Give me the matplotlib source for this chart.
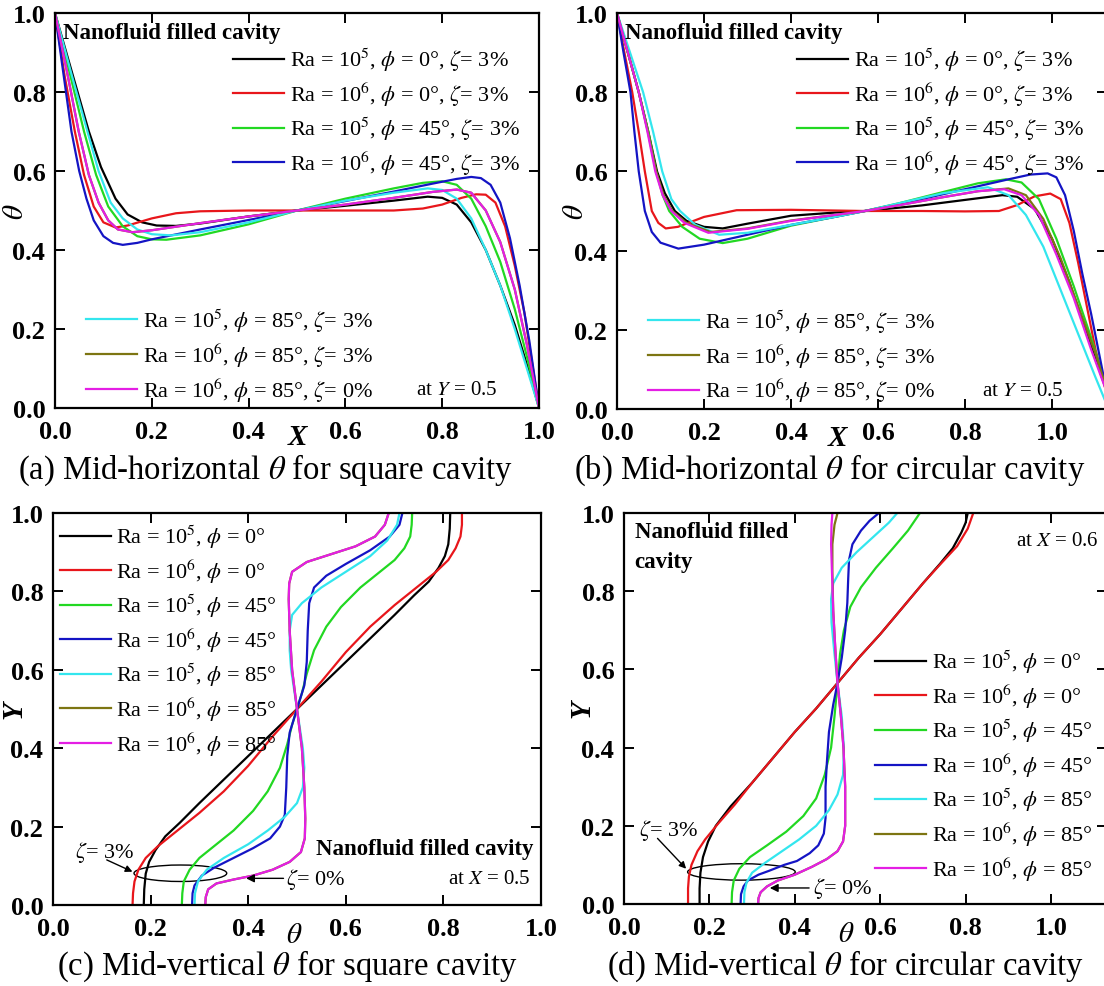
import matplotlib.pyplot as plt
from matplotlib.patches import Ellipse

plt.rcParams['font.family'] = ['Liberation Serif', 'DejaVu Serif']
plt.rcParams['mathtext.fontset'] = 'stix'

# ---- data: (a) mid-horizontal theta, square cavity  (X, theta) ----
a_black = [(0, 1.0), (0.035, 0.85), (0.07, 0.7), (0.095, 0.61), (0.125, 0.53), (0.15, 0.49), (0.18, 0.47),
           (0.21, 0.462), (0.25, 0.461), (0.3, 0.467), (0.4, 0.485), (0.5, 0.5), (0.6, 0.512), (0.7, 0.525),
           (0.77, 0.535), (0.8, 0.532), (0.83, 0.515), (0.86, 0.47), (0.89, 0.4), (0.92, 0.31), (0.95, 0.21),
           (0.975, 0.11), (1.0, 0.0)]
a_red = [(0, 1.0), (0.02, 0.84), (0.041, 0.7), (0.06, 0.59), (0.08, 0.51), (0.1, 0.47), (0.125, 0.457),
         (0.15, 0.462), (0.2, 0.48), (0.25, 0.493), (0.3, 0.498), (0.4, 0.5), (0.5, 0.5), (0.6, 0.5), (0.7, 0.5),
         (0.76, 0.505), (0.8, 0.515), (0.84, 0.532), (0.87, 0.541), (0.89, 0.54), (0.91, 0.52), (0.93, 0.46),
         (0.95, 0.36), (0.97, 0.24), (0.985, 0.12), (1.0, 0.0)]
a_green = [(0, 1.0), (0.03, 0.85), (0.06, 0.7), (0.085, 0.59), (0.11, 0.51), (0.14, 0.46), (0.17, 0.435),
           (0.2, 0.427), (0.23, 0.426), (0.3, 0.437), (0.4, 0.465), (0.5, 0.5), (0.6, 0.53), (0.7, 0.556),
           (0.76, 0.57), (0.8, 0.574), (0.83, 0.565), (0.86, 0.53), (0.89, 0.46), (0.92, 0.37), (0.95, 0.25),
           (0.975, 0.13), (1.0, 0.0)]
a_blue = [(0, 1.0), (0.017, 0.85), (0.034, 0.7), (0.05, 0.6), (0.065, 0.53), (0.08, 0.475), (0.1, 0.435),
          (0.12, 0.418), (0.14, 0.413), (0.17, 0.418), (0.2, 0.427), (0.3, 0.452), (0.4, 0.476), (0.5, 0.5),
          (0.6, 0.524), (0.7, 0.548), (0.78, 0.568), (0.83, 0.58), (0.86, 0.585), (0.88, 0.582), (0.9, 0.565),
          (0.92, 0.52), (0.94, 0.43), (0.96, 0.31), (0.98, 0.17), (1.0, 0.0)]
a_cyan = [(0, 1.0), (0.033, 0.85), (0.067, 0.7), (0.09, 0.6), (0.115, 0.52), (0.14, 0.48), (0.17, 0.452),
          (0.2, 0.44), (0.24, 0.437), (0.3, 0.445), (0.4, 0.47), (0.5, 0.5), (0.6, 0.525), (0.7, 0.545),
          (0.77, 0.556), (0.8, 0.552), (0.83, 0.53), (0.86, 0.48), (0.89, 0.4), (0.92, 0.31), (0.95, 0.2),
          (0.975, 0.1), (1.0, 0.0)]
a_olive = [(0, 1.0), (0.025, 0.85), (0.049, 0.7), (0.07, 0.59), (0.09, 0.52), (0.11, 0.475), (0.13, 0.452),
           (0.16, 0.445), (0.2, 0.45), (0.3, 0.468), (0.4, 0.485), (0.5, 0.5), (0.6, 0.515), (0.7, 0.532),
           (0.78, 0.547), (0.83, 0.553), (0.86, 0.545), (0.89, 0.5), (0.92, 0.42), (0.95, 0.3), (0.975, 0.16),
           (1.0, 0.0)]
a_magenta = [(0, 1.0), (0.025, 0.85), (0.049, 0.7), (0.07, 0.59), (0.09, 0.52), (0.11, 0.475), (0.13, 0.452),
             (0.16, 0.445), (0.2, 0.45), (0.3, 0.468), (0.4, 0.485), (0.5, 0.5), (0.6, 0.515), (0.7, 0.532),
             (0.78, 0.547), (0.83, 0.553), (0.86, 0.545), (0.89, 0.5), (0.92, 0.42), (0.95, 0.3), (0.975, 0.16),
             (1.0, 0.0)]

# ---- data: (b) mid-horizontal theta, circular cavity  (X, theta) ----
b_black = [(0, 1.0), (0.025, 0.9), (0.05, 0.8), (0.072, 0.7), (0.092, 0.6), (0.11, 0.545), (0.133, 0.5),
           (0.16, 0.475), (0.2, 0.46), (0.243, 0.456), (0.3, 0.468), (0.4, 0.488), (0.5, 0.496), (0.57, 0.5),
           (0.7, 0.514), (0.8, 0.528), (0.886, 0.54), (0.92, 0.536), (0.96, 0.505), (1.0, 0.43), (1.04, 0.32),
           (1.08, 0.19), (1.14, 0.0)]
b_red = [(0, 1.0), (0.017, 0.9), (0.035, 0.8), (0.05, 0.7), (0.064, 0.6), (0.08, 0.5), (0.095, 0.47),
         (0.112, 0.456), (0.14, 0.46), (0.2, 0.485), (0.275, 0.502), (0.4, 0.503), (0.57, 0.5), (0.7, 0.5),
         (0.8, 0.499), (0.878, 0.5), (0.92, 0.515), (0.96, 0.537), (0.996, 0.544), (1.02, 0.53), (1.04, 0.47),
         (1.06, 0.37), (1.08, 0.26), (1.1, 0.15), (1.13, 0.02)]
b_green = [(0, 1.0), (0.025, 0.9), (0.05, 0.8), (0.072, 0.7), (0.09, 0.6), (0.105, 0.54), (0.12, 0.5),
           (0.15, 0.46), (0.19, 0.43), (0.243, 0.419), (0.3, 0.43), (0.4, 0.463), (0.5, 0.485), (0.57, 0.5),
           (0.65, 0.52), (0.75, 0.548), (0.83, 0.57), (0.894, 0.58), (0.93, 0.572), (0.97, 0.53), (1.01, 0.43),
           (1.05, 0.31), (1.09, 0.18), (1.14, 0.0)]
b_blue = [(0, 1.0), (0.015, 0.9), (0.031, 0.8), (0.04, 0.7), (0.05, 0.6), (0.064, 0.5), (0.08, 0.447),
          (0.1, 0.42), (0.141, 0.405), (0.2, 0.415), (0.3, 0.44), (0.4, 0.465), (0.5, 0.485), (0.57, 0.5),
          (0.7, 0.53), (0.8, 0.555), (0.9, 0.58), (0.95, 0.592), (0.99, 0.595), (1.01, 0.585), (1.03, 0.54),
          (1.05, 0.45), (1.07, 0.34), (1.09, 0.24), (1.11, 0.13), (1.13, 0.02)]
b_cyan = [(0, 1.0), (0.03, 0.9), (0.06, 0.8), (0.083, 0.7), (0.104, 0.6), (0.125, 0.53), (0.145, 0.5),
          (0.18, 0.465), (0.235, 0.44), (0.3, 0.445), (0.4, 0.465), (0.5, 0.485), (0.57, 0.5), (0.65, 0.52),
          (0.75, 0.545), (0.853, 0.56), (0.9, 0.54), (0.94, 0.49), (0.98, 0.41), (1.02, 0.3), (1.06, 0.19),
          (1.1, 0.08), (1.13, 0.0)]
b_olive = [(0, 1.0), (0.025, 0.9), (0.05, 0.8), (0.071, 0.7), (0.09, 0.6), (0.107, 0.54), (0.127, 0.5),
           (0.16, 0.47), (0.215, 0.447), (0.3, 0.456), (0.4, 0.476), (0.5, 0.49), (0.57, 0.5), (0.65, 0.515),
           (0.75, 0.535), (0.83, 0.55), (0.9, 0.557), (0.94, 0.54), (0.98, 0.48), (1.02, 0.38), (1.06, 0.26),
           (1.1, 0.14), (1.14, 0.0)]
b_magenta = [(0, 1.0), (0.025, 0.9), (0.05, 0.8), (0.07, 0.7), (0.088, 0.6), (0.105, 0.54), (0.125, 0.5),
             (0.155, 0.47), (0.21, 0.445), (0.3, 0.455), (0.4, 0.475), (0.5, 0.49), (0.57, 0.5), (0.65, 0.515),
             (0.75, 0.535), (0.83, 0.55), (0.89, 0.555), (0.93, 0.54), (0.97, 0.49), (1.01, 0.39), (1.05, 0.28),
             (1.09, 0.15), (1.14, 0.0)]

# ---- data: (c) mid-vertical theta, square cavity  (theta, Y) ----
c_black = [(0.186, 0.0), (0.187, 0.04), (0.19, 0.08), (0.197, 0.11), (0.21, 0.14), (0.23, 0.175), (0.26, 0.21),
           (0.3, 0.26), (0.35, 0.32), (0.4, 0.38), (0.45, 0.44), (0.5, 0.5), (0.55, 0.56), (0.6, 0.62),
           (0.65, 0.68), (0.7, 0.74), (0.74, 0.79), (0.77, 0.825), (0.79, 0.86), (0.803, 0.89), (0.81, 0.92),
           (0.813, 0.96), (0.814, 1.0)]
c_red = [(0.163, 0.0), (0.164, 0.03), (0.167, 0.06), (0.175, 0.09), (0.19, 0.12), (0.215, 0.15), (0.25, 0.185),
         (0.3, 0.235), (0.35, 0.29), (0.4, 0.355), (0.45, 0.43), (0.5, 0.5), (0.55, 0.57), (0.6, 0.645),
         (0.65, 0.71), (0.7, 0.765), (0.75, 0.815), (0.785, 0.85), (0.81, 0.88), (0.825, 0.91), (0.835, 0.94),
         (0.838, 0.97), (0.838, 1.0)]
c_green = [(0.264, 0.0), (0.265, 0.03), (0.268, 0.06), (0.28, 0.09), (0.3, 0.12), (0.33, 0.15), (0.37, 0.19),
           (0.41, 0.24), (0.44, 0.29), (0.465, 0.35), (0.48, 0.41), (0.49, 0.46), (0.5, 0.5), (0.51, 0.54),
           (0.52, 0.59), (0.535, 0.65), (0.56, 0.71), (0.59, 0.76), (0.63, 0.81), (0.67, 0.85), (0.7, 0.88),
           (0.72, 0.91), (0.732, 0.94), (0.735, 0.97), (0.736, 1.0)]
c_blue = [(0.285, 0.0), (0.286, 0.03), (0.29, 0.05), (0.305, 0.075), (0.33, 0.095), (0.37, 0.12), (0.41, 0.145),
          (0.445, 0.17), (0.465, 0.2), (0.475, 0.23), (0.478, 0.3), (0.48, 0.38), (0.485, 0.44), (0.5, 0.5),
          (0.515, 0.56), (0.52, 0.62), (0.522, 0.7), (0.525, 0.77), (0.535, 0.81), (0.56, 0.84), (0.6, 0.87),
          (0.65, 0.905), (0.69, 0.94), (0.71, 0.97), (0.716, 1.0)]
c_cyan = [(0.29, 0.0), (0.291, 0.03), (0.297, 0.06), (0.315, 0.09), (0.35, 0.12), (0.4, 0.155), (0.44, 0.19),
          (0.475, 0.225), (0.5, 0.26), (0.512, 0.3), (0.515, 0.35), (0.512, 0.4), (0.506, 0.45), (0.5, 0.5),
          (0.494, 0.55), (0.488, 0.6), (0.485, 0.65), (0.485, 0.7), (0.49, 0.74), (0.51, 0.77), (0.55, 0.81),
          (0.6, 0.85), (0.65, 0.89), (0.685, 0.93), (0.705, 0.97), (0.71, 1.0)]
c_olive = [(0.312, 0.0), (0.313, 0.02), (0.318, 0.04), (0.335, 0.055), (0.37, 0.065), (0.41, 0.075),
           (0.45, 0.09), (0.485, 0.11), (0.508, 0.135), (0.516, 0.17), (0.517, 0.22), (0.515, 0.3), (0.51, 0.4),
           (0.5, 0.5), (0.49, 0.6), (0.485, 0.7), (0.483, 0.78), (0.484, 0.82), (0.49, 0.85), (0.52, 0.875),
           (0.57, 0.895), (0.62, 0.915), (0.66, 0.94), (0.68, 0.97), (0.688, 1.0)]
c_magenta = [(0.312, 0.0), (0.313, 0.02), (0.318, 0.04), (0.335, 0.055), (0.37, 0.065), (0.41, 0.075),
             (0.45, 0.09), (0.485, 0.11), (0.508, 0.135), (0.516, 0.17), (0.517, 0.22), (0.515, 0.3),
             (0.51, 0.4), (0.5, 0.5), (0.49, 0.6), (0.485, 0.7), (0.483, 0.78), (0.484, 0.82), (0.49, 0.85),
             (0.52, 0.875), (0.57, 0.895), (0.62, 0.915), (0.66, 0.94), (0.68, 0.97), (0.688, 1.0)]

# ---- data: (d) mid-vertical theta, circular cavity  (theta, Y) ----
d_black = [(0.177, 0.0), (0.177, 0.04), (0.179, 0.08), (0.185, 0.12), (0.197, 0.16), (0.215, 0.2), (0.25, 0.25),
           (0.3, 0.31), (0.35, 0.375), (0.4, 0.44), (0.45, 0.5), (0.5, 0.565), (0.55, 0.63), (0.6, 0.69),
           (0.65, 0.755), (0.7, 0.82), (0.74, 0.87), (0.77, 0.91), (0.79, 0.95), (0.8, 0.975), (0.805, 1.0)]
d_red = [(0.15, 0.0), (0.15, 0.04), (0.152, 0.07), (0.158, 0.1), (0.172, 0.135), (0.19, 0.165), (0.22, 0.205),
         (0.26, 0.255), (0.3, 0.31), (0.35, 0.375), (0.4, 0.44), (0.45, 0.5), (0.5, 0.565), (0.55, 0.63),
         (0.6, 0.69), (0.65, 0.755), (0.7, 0.82), (0.74, 0.868), (0.78, 0.915), (0.805, 0.96), (0.818, 1.0)]
d_green = [(0.252, 0.0), (0.253, 0.03), (0.257, 0.06), (0.27, 0.09), (0.295, 0.12), (0.335, 0.15),
           (0.38, 0.185), (0.42, 0.225), (0.45, 0.27), (0.47, 0.33), (0.485, 0.4), (0.493, 0.48), (0.5, 0.565),
           (0.506, 0.64), (0.515, 0.7), (0.53, 0.76), (0.555, 0.81), (0.59, 0.86), (0.63, 0.91), (0.665, 0.955),
           (0.693, 1.0)]
d_blue = [(0.273, 0.0), (0.274, 0.025), (0.28, 0.045), (0.29, 0.06), (0.315, 0.075), (0.34, 0.085),
          (0.375, 0.1), (0.405, 0.11), (0.435, 0.13), (0.455, 0.15), (0.468, 0.18), (0.472, 0.22),
          (0.472, 0.3), (0.475, 0.36), (0.48, 0.44), (0.49, 0.51), (0.5, 0.565), (0.51, 0.63), (0.518, 0.7),
          (0.523, 0.77), (0.525, 0.83), (0.527, 0.88), (0.535, 0.92), (0.555, 0.955), (0.575, 0.98),
          (0.597, 1.0)]
d_cyan = [(0.281, 0.0), (0.282, 0.03), (0.287, 0.055), (0.3, 0.08), (0.33, 0.105), (0.37, 0.135), (0.41, 0.165),
          (0.45, 0.2), (0.48, 0.24), (0.5, 0.28), (0.513, 0.33), (0.515, 0.4), (0.51, 0.48), (0.5, 0.565),
          (0.492, 0.65), (0.486, 0.72), (0.485, 0.78), (0.49, 0.82), (0.51, 0.86), (0.545, 0.9), (0.585, 0.94),
          (0.62, 0.975), (0.64, 1.0)]
d_olive = [(0.314, 0.0), (0.315, 0.015), (0.32, 0.03), (0.335, 0.045), (0.36, 0.06), (0.4, 0.075), (0.44, 0.095),
           (0.475, 0.115), (0.5, 0.135), (0.513, 0.16), (0.518, 0.2), (0.518, 0.3), (0.514, 0.4), (0.508, 0.48),
           (0.5, 0.565), (0.495, 0.65), (0.49, 0.75), (0.488, 0.85), (0.488, 0.92), (0.493, 0.97), (0.5, 1.0)]
d_magenta = [(0.314, 0.0), (0.315, 0.015), (0.32, 0.03), (0.335, 0.045), (0.36, 0.06), (0.4, 0.075),
             (0.44, 0.095), (0.475, 0.115), (0.5, 0.135), (0.513, 0.16), (0.518, 0.2), (0.518, 0.3),
             (0.514, 0.4), (0.508, 0.48), (0.5, 0.565), (0.495, 0.65), (0.49, 0.75), (0.487, 0.85),
             (0.485, 0.92), (0.486, 0.97), (0.488, 1.0)]

# legend labels
labels_top = [r'Ra = 10$^5$, $\phi$ = 0°, $\zeta$= 3%', r'Ra = 10$^6$, $\phi$ = 0°, $\zeta$= 3%',
              r'Ra = 10$^5$, $\phi$ = 45°, $\zeta$= 3%', r'Ra = 10$^6$, $\phi$ = 45°, $\zeta$= 3%']
labels_bottom = [r'Ra = 10$^5$, $\phi$ = 85°, $\zeta$= 3%', r'Ra = 10$^6$, $\phi$ = 85°, $\zeta$= 3%',
                 r'Ra = 10$^6$, $\phi$ = 85°, $\zeta$= 0%']
labels_vert = [r'Ra = 10$^5$, $\phi$ = 0°', r'Ra = 10$^6$, $\phi$ = 0°', r'Ra = 10$^5$, $\phi$ = 45°',
               r'Ra = 10$^6$, $\phi$ = 45°', r'Ra = 10$^5$, $\phi$ = 85°', r'Ra = 10$^6$, $\phi$ = 85°',
               r'Ra = 10$^6$, $\phi$ = 85°']
ticks = [0.0, 0.2, 0.4, 0.6, 0.8, 1.0]
tick_labels = ['0.0', '0.2', '0.4', '0.6', '0.8', '1.0']

colors = ['#000000', '#e8161b', '#22d822', '#1414c4', '#33e6ee', '#7d7512', '#e41ee4']

W, H = 1104, 987
fig = plt.figure(figsize=(W / 100, H / 100), dpi=100)


def add_axes(left, top, right, bottom):
    return fig.add_axes([left / W, 1 - bottom / H, (right - left) / W, (bottom - top) / H])


def style(ax, xmax):
    ax.set_xlim(0, xmax)
    ax.set_ylim(0, 1)
    ax.set_xticks(ticks)
    ax.set_yticks(ticks)
    ax.set_xticklabels(tick_labels, fontweight='bold', fontsize=19)
    ax.set_yticklabels(tick_labels, fontweight='bold', fontsize=19)
    ax.tick_params(direction='in', length=7, width=1.4, top=True, right=True)
    ax.tick_params(axis='x', pad=8.5)
    ax.tick_params(axis='y', pad=7)
    for sp in ax.spines.values():
        sp.set_linewidth(1.6)


def draw(ax, series):
    handles = []
    for pts, c in zip(series, colors):
        xs = [p[0] for p in pts]
        ys = [p[1] for p in pts]
        h, = ax.plot(xs, ys, color=c, lw=1.6)
        handles.append(h)
    return handles


leg_kw = dict(frameon=False, fontsize=16, handlelength=2.3, handletextpad=0.25,
              borderpad=0, borderaxespad=0, labelspacing=0.3, loc='upper left')

ax_a = add_axes(55, 14, 539, 409)
ax_b = add_axes(617, 14, 1107, 410)
ax_c = add_axes(53, 514, 541, 906)
ax_d = add_axes(624, 514, 1107, 905)

# (a) and (b)
for ax, series, xmax, xlab_x, ylab_x in [
        (ax_a, [a_black, a_red, a_green, a_blue, a_cyan, a_olive, a_magenta], 1.0, 0.5, -0.054),
        (ax_b, [b_black, b_red, b_green, b_blue, b_cyan, b_olive, b_magenta], 490 / 435, 0.45, -0.057)]:
    style(ax, xmax)
    hs = draw(ax, series)
    leg1 = ax.legend(hs[:4], labels_top, bbox_to_anchor=(0.368, 0.917), **leg_kw)
    ax.add_artist(leg1)
    ax.legend(hs[4:], labels_bottom, bbox_to_anchor=(0.064, 0.257), **leg_kw)
    ax.text(0.017, 0.95, 'Nanofluid filled cavity', transform=ax.transAxes, fontsize=16.5,
            fontweight='bold', va='center', ha='left')
    ax.text(0.745, 0.047, r'at $Y$ = 0.5', transform=ax.transAxes, fontsize=15, va='center', ha='left')
    ax.text(xlab_x, -0.072, 'X', transform=ax.transAxes, fontsize=21, fontweight='bold',
            fontstyle='italic', ha='center', va='center')
    ax.set_ylabel(r'$\theta$', fontsize=21)
    ax.yaxis.set_label_coords(ylab_x, 0.5)

# (c)
style(ax_c, 1.0)
hs = draw(ax_c, [c_black, c_red, c_green, c_blue, c_cyan, c_olive, c_magenta])
ax_c.legend(hs, labels_vert, bbox_to_anchor=(0.014, 0.975), **leg_kw)
ax_c.text(0.985, 0.145, 'Nanofluid filled cavity', transform=ax_c.transAxes, fontsize=16.5,
          fontweight='bold', va='center', ha='right')
ax_c.text(0.978, 0.068, r'at $X$ = 0.5', transform=ax_c.transAxes, fontsize=15, va='center', ha='right')
ax_c.add_patch(Ellipse((0.261, 0.081), 0.19, 0.042, fill=False, lw=1.0, color='k'))
ax_c.annotate('', xy=(0.168, 0.082), xytext=(0.105, 0.118),
              arrowprops=dict(arrowstyle='-|>', color='k', lw=1.0, mutation_scale=10))
ax_c.text(0.045, 0.136, r'$\zeta$= 3%', fontsize=16, va='center', ha='left')
ax_c.annotate('', xy=(0.39, 0.068), xytext=(0.478, 0.068),
              arrowprops=dict(arrowstyle='-|>', color='k', lw=1.0, mutation_scale=12))
ax_c.text(0.478, 0.068, r'$\zeta$= 0%', fontsize=16, va='center', ha='left')
ax_c.text(0.495, -0.076, r'$\theta$', transform=ax_c.transAxes, fontsize=21, ha='center', va='center')
ax_c.set_ylabel('Y', fontsize=21, fontweight='bold', fontstyle='italic')
ax_c.yaxis.set_label_coords(-0.053, 0.5)

# (d)
style(ax_d, 483 / 427)
hs = draw(ax_d, [d_black, d_red, d_green, d_blue, d_cyan, d_olive, d_magenta])
ax_d.legend(hs, labels_vert, bbox_to_anchor=(0.52, 0.655), **leg_kw)
ax_d.text(0.025, 0.915, 'Nanofluid filled\ncavity', fontsize=16.5, fontweight='bold', va='center',
          ha='left', linespacing=1.55)
ax_d.text(0.917, 0.93, r'at $X$ = 0.6', fontsize=15, va='center', ha='left')
ax_d.add_patch(Ellipse((0.275, 0.082), 0.252, 0.042, fill=False, lw=1.0, color='k'))
ax_d.annotate('', xy=(0.15, 0.085), xytext=(0.074, 0.173),
              arrowprops=dict(arrowstyle='-|>', color='k', lw=1.0, mutation_scale=10))
ax_d.text(0.035, 0.19, r'$\zeta$= 3%', fontsize=16, va='center', ha='left')
ax_d.annotate('', xy=(0.335, 0.041), xytext=(0.44, 0.041),
              arrowprops=dict(arrowstyle='-|>', color='k', lw=1.0, mutation_scale=12))
ax_d.text(0.442, 0.041, r'$\zeta$= 0%', fontsize=16, va='center', ha='left')
ax_d.text(0.46, -0.076, r'$\theta$', transform=ax_d.transAxes, fontsize=21, ha='center', va='center')
ax_d.set_ylabel('Y', fontsize=21, fontweight='bold', fontstyle='italic')
ax_d.yaxis.set_label_coords(-0.058, 0.5)

# captions
fig.text(265 / W, 1 - 470 / H, r'(a) Mid-horizontal $\theta$ for square cavity', fontsize=23.5,
         ha='center', va='center')
fig.text(830 / W, 1 - 470 / H, r'(b) Mid-horizontal $\theta$ for circular cavity', fontsize=23.5,
         ha='center', va='center')
fig.text(287 / W, 1 - 966 / H, r'(c) Mid-vertical $\theta$ for square cavity', fontsize=23.5,
         ha='center', va='center')
fig.text(845 / W, 1 - 966 / H, r'(d) Mid-vertical $\theta$ for circular cavity', fontsize=23.5,
         ha='center', va='center')

fig.savefig('out.png', dpi=100)
